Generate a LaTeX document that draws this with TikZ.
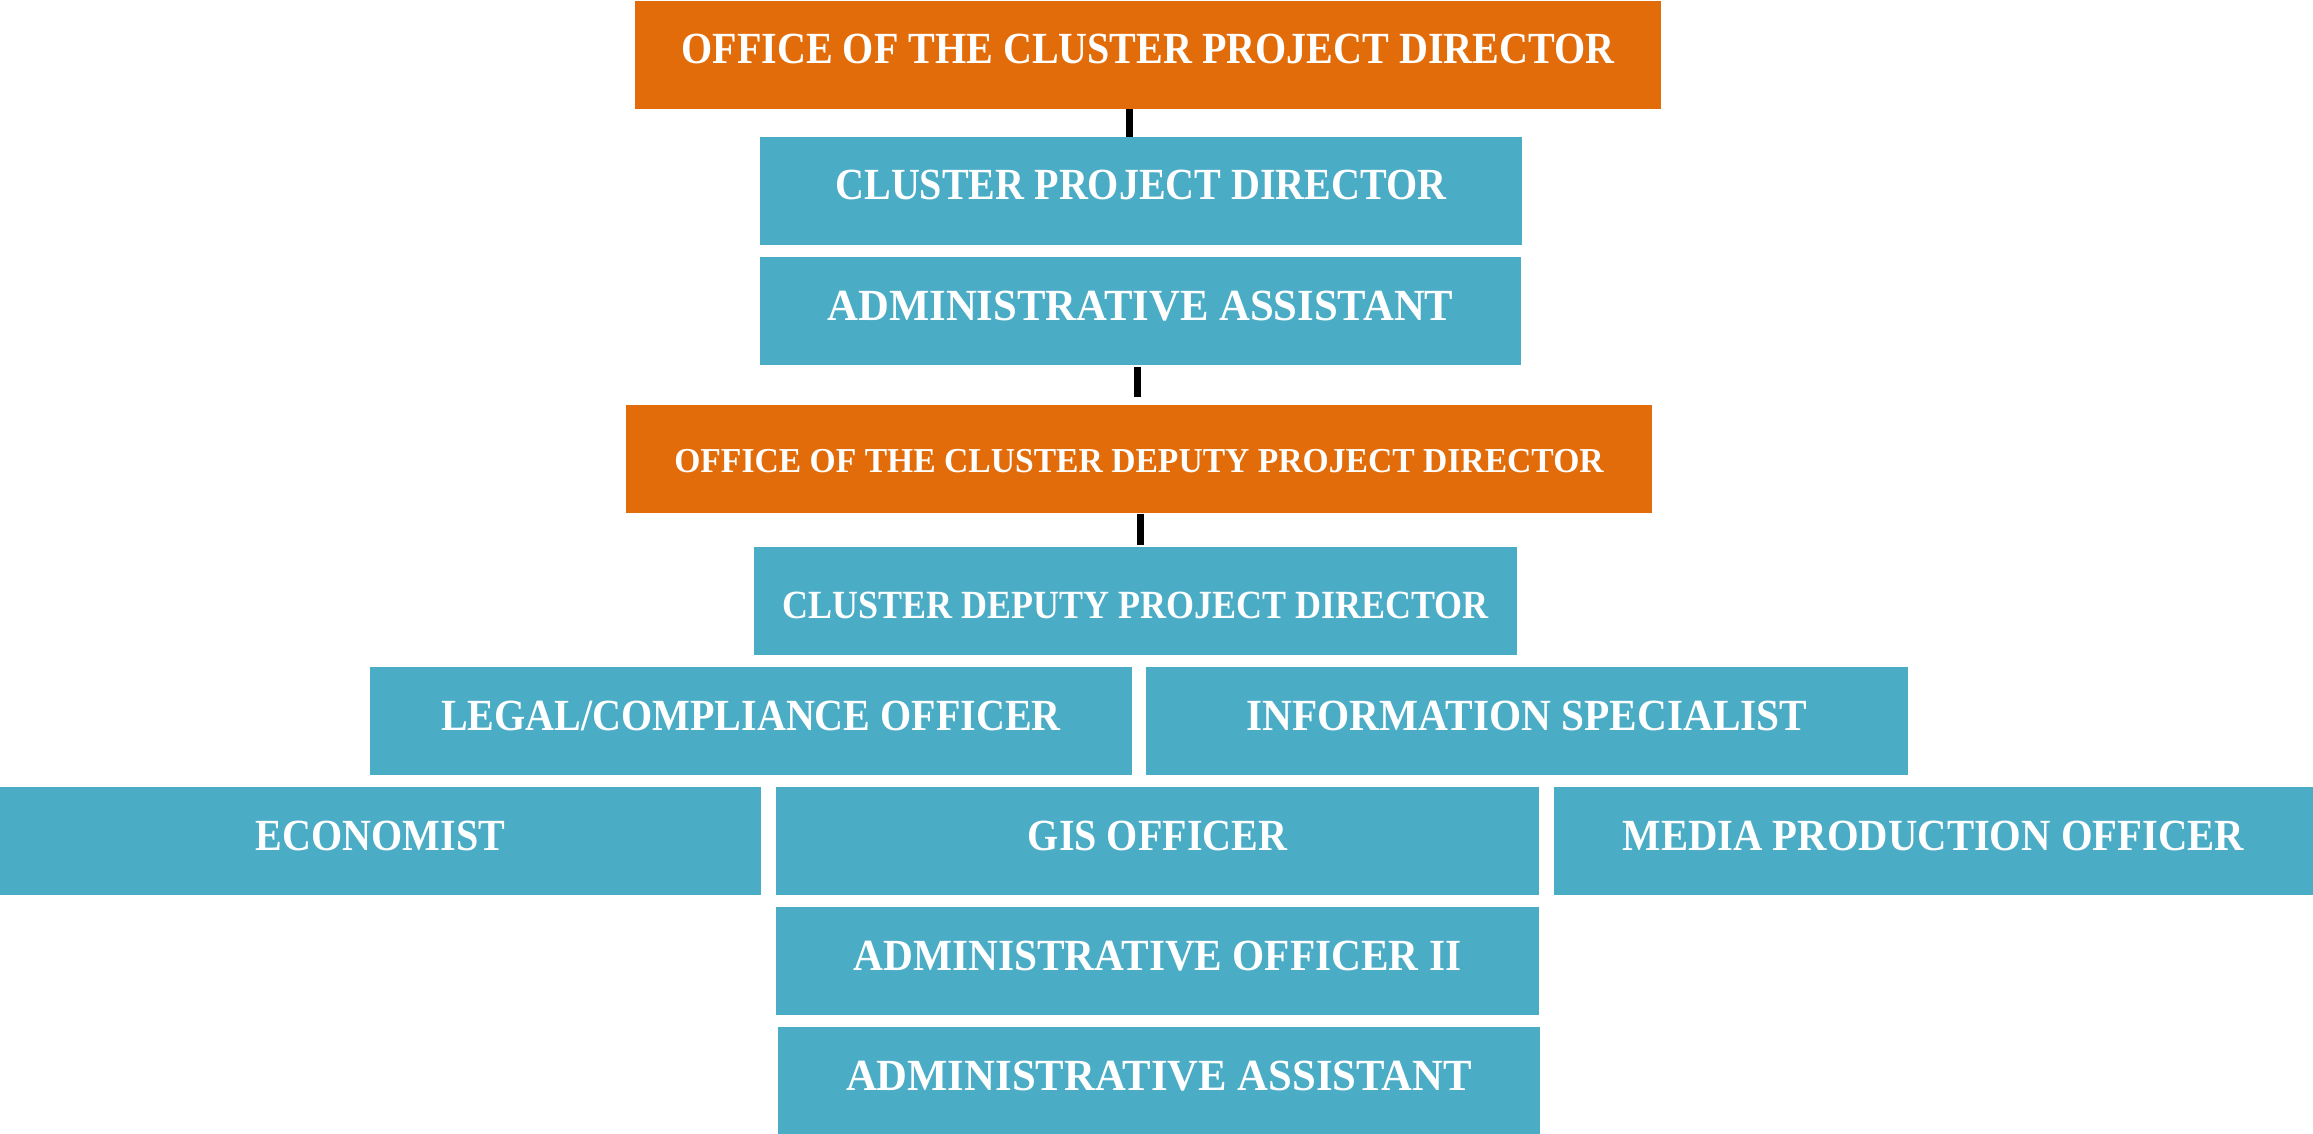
\documentclass[tikz,border=0pt]{standalone}
\usepackage{fontspec}
\usepackage{graphicx}
\newfontfamily\boxfont{Liberation Serif}[FakeStretch=0.9]
\newcommand\hstretch[2]{\scalebox{#1}[1]{#2}}
\definecolor{orgorange}{HTML}{E36C0A}
\definecolor{orgteal}{HTML}{4BACC6}
\tikzset{
  unitbox/.style={rectangle, anchor=north west, inner sep=0pt, outer sep=0pt,
    text=white, font=\boxfont\bfseries\fontsize{44.5}{50}\selectfont,
    text height=63pt, text depth=45pt},
  officebox/.style={unitbox, fill=orgorange},
  rolebox/.style={unitbox, fill=orgteal},
  conn/.style={draw=black, line width=7pt}
}
\begin{document}
\begin{tikzpicture}[x=1pt, y=-1pt]
\useasboundingbox (0,0) rectangle (2313,1134);
\node[officebox, minimum width=1026pt] (b1) at (635,1) {OFFICE OF THE CLUSTER PROJECT DIRECTOR};
\node[rolebox, minimum width=762pt] (b2) at (760,137) {CLUSTER PROJECT DIRECTOR};
\node[rolebox, minimum width=761pt] (b3) at (760,257) {\hstretch{1.066}{ADMINISTRATIVE ASSISTANT}};
\node[officebox, minimum width=1026pt, font=\boxfont\bfseries\fontsize{35}{40}\selectfont, text height=67pt, text depth=41pt] (b4) at (626,405) {\hstretch{1.067}{OFFICE OF THE CLUSTER DEPUTY PROJECT DIRECTOR}};
\node[rolebox, minimum width=763pt, font=\boxfont\bfseries\fontsize{40}{45}\selectfont, text height=71pt, text depth=37pt] (b5) at (754,547) {CLUSTER DEPUTY PROJECT DIRECTOR};
\node[rolebox, minimum width=762pt] (b6) at (370,667) {LEGAL/COMPLIANCE OFFICER};
\node[rolebox, minimum width=762pt] (b7) at (1146,667) {\hstretch{1.032}{INFORMATION SPECIALIST}};
\node[rolebox, minimum width=761pt] (b8) at (0,787) {ECONOMIST};
\node[rolebox, minimum width=763pt] (b9) at (776,787) {GIS OFFICER};
\node[rolebox, minimum width=759pt] (b10) at (1554,787) {\hstretch{1.016}{MEDIA PRODUCTION OFFICER}};
\node[rolebox, minimum width=763pt] (b11) at (776,907) {\hstretch{1.032}{ADMINISTRATIVE OFFICER II}};
\node[rolebox, minimum width=762pt, text depth=44pt] (b12) at (778,1027) {\hstretch{1.066}{ADMINISTRATIVE ASSISTANT}};
\draw[conn] ([xshift=-19pt]b1.south) -- ([xshift=-12pt]b2.north);
\draw[conn, shorten <=2pt, shorten >=8pt] ([xshift=-3.5pt]b3.south) -- ([xshift=-2pt]b4.north);
\draw[conn, shorten <=1pt, shorten >=2pt] ([xshift=1pt]b4.south) -- ([xshift=4.5pt]b5.north);
\end{tikzpicture}
\end{document}
